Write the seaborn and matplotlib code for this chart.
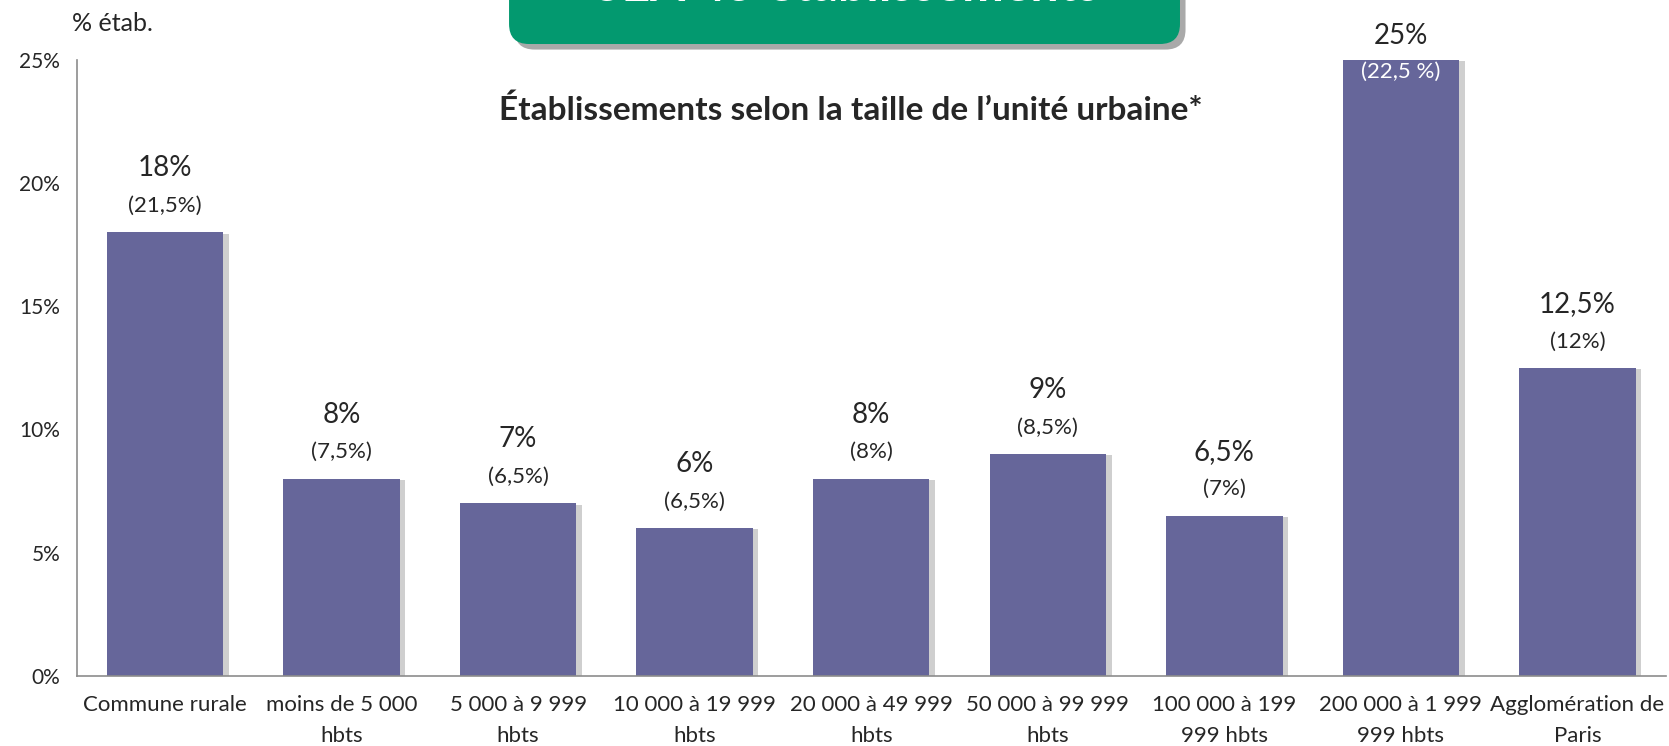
import numpy as np
import matplotlib
matplotlib.use("Agg")
import matplotlib.pyplot as plt
import matplotlib.patheffects as pe
from matplotlib.patches import FancyBboxPatch
import seaborn as sns

# ── Données ─────────────────────────────────────────────
categories = ["Commune rurale", "moins de 5 000\nhbts", "5 000 à 9 999\nhbts",
              "10 000 à 19 999\nhbts", "20 000 à 49 999\nhbts", "50 000 à 99 999\nhbts",
              "100 000 à 199\n999 hbts", "200 000 à 1 999\n999 hbts", "Agglomération de\nParis"]
values = [18, 8, 7, 6, 8, 9, 6.5, 25, 12.5]
main_labels = ["18%", "8%", "7%", "6%", "8%", "9%", "6,5%", "25%", "12,5%"]
sub_labels = ["(21,5%)", "(7,5%)", "(6,5%)", "(6,5%)", "(8%)", "(8,5%)", "(7%)", "(22,5 %)", "(12%)"]
yticks = [0, 5, 10, 15, 20, 25]

BAR = "#66669A"
GRID = "#8c8c8c"

sns.set_style("white")
plt.rcParams['font.family'] = ['Lato', 'DejaVu Sans']

fig = plt.figure(figsize=(16.69, 7.46), dpi=100)
ax = fig.add_axes([0.046, 0.094, 0.952, 0.826])

sns.barplot(x=list(range(len(values))), y=values, color=BAR, width=0.66,
            saturation=1, ax=ax, edgecolor="none")
for p in ax.patches:
    p.set_path_effects([pe.SimplePatchShadow(offset=(4, -1), shadow_rgbFace="#888888", alpha=0.4),
                        pe.Normal()])

# étiquettes des barres
for i, (v, m, s) in enumerate(zip(values, main_labels, sub_labels)):
    if v >= 24:
        ax.annotate(m, (i, v), xytext=(0, 17), textcoords="offset points",
                    ha="center", va="center", fontsize=20)
        ax.annotate(s, (i, v), xytext=(0, -9), textcoords="offset points",
                    ha="center", va="center", fontsize=16, color="white")
    else:
        ax.annotate(m, (i, v), xytext=(0, 46), textcoords="offset points",
                    ha="center", va="center", fontsize=20)
        ax.annotate(s, (i, v), xytext=(0, 19), textcoords="offset points",
                    ha="center", va="center", fontsize=16)

ax.set_ylim(0, 25)
ax.set_xlim(-0.5, len(values) - 0.5)
ax.set_yticks(yticks)
ax.set_yticklabels([f"{t}%" for t in yticks], fontsize=15)
ax.set_xticks(range(len(values)))
ax.set_xticklabels(categories, fontsize=16, linespacing=1.65)
ax.set_xticks(np.arange(-0.5, len(values)), minor=True)
ax.tick_params(axis="x", which="major", length=0, pad=14)
ax.tick_params(axis="x", which="minor", length=6, color=GRID, width=1.2, direction="out")
ax.tick_params(axis="y", length=6, color=GRID, width=1.2, direction="out", pad=6)
ax.set_xlabel(""); ax.set_ylabel("")

for side in ["top", "right"]:
    ax.spines[side].set_visible(False)
for side in ["left", "bottom"]:
    ax.spines[side].set_color(GRID)
    ax.spines[side].set_linewidth(1.2)

fig.text(0.043, 0.968, "% étab.", fontsize=18, ha="left", va="center")
fig.text(0.51, 0.853, "Établissements selon la taille de l’unité urbaine*",
         fontsize=24, fontweight="bold", ha="center", va="center")

# bandeau vert (coupé en haut)
banner = FancyBboxPatch((0.305, 0.941), 0.402, 0.2, boxstyle="round,pad=0,rounding_size=0.012",
                        transform=fig.transFigure, facecolor="#03996F", edgecolor="none",
                        mutation_aspect=1669 / 746,
                        path_effects=[pe.SimplePatchShadow(offset=(4, -4), shadow_rgbFace="#555555", alpha=0.5),
                                      pe.Normal()])
fig.add_artist(banner)
fig.text(0.507, 0.998, "SEA 45 établissements", fontsize=36, fontweight="bold",
         color="white", ha="center", va="baseline")

plt.savefig("out.png", dpi=100)
plt.close()
